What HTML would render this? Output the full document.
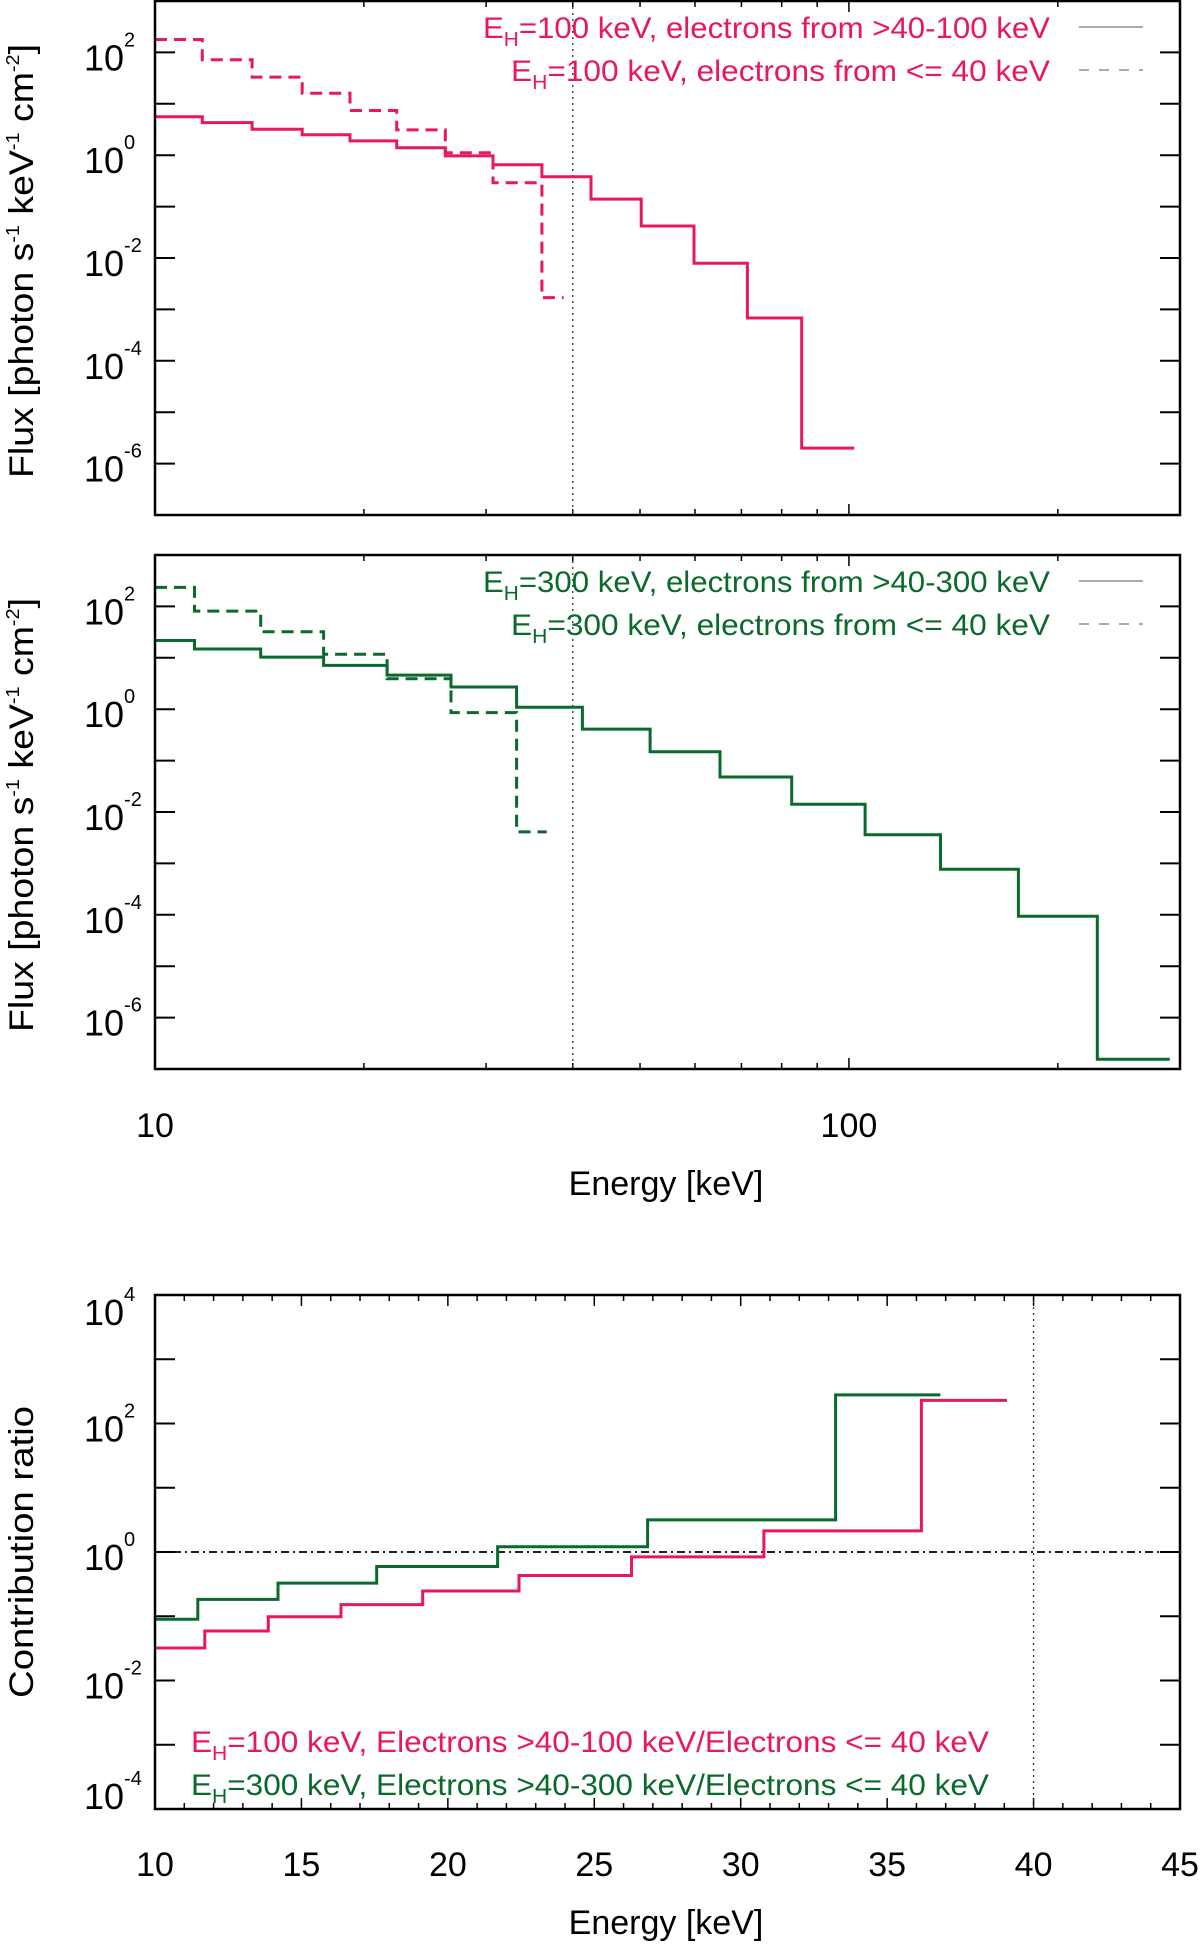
<!DOCTYPE html>
<html><head><meta charset="utf-8"><style>
html,body{margin:0;padding:0;background:#fff}
svg{display:block;font-family:"Liberation Sans",Arial,sans-serif}
</style></head><body>
<svg id="fig" width="1200" height="1944" viewBox="0 0 1200 1944" xmlns="http://www.w3.org/2000/svg"></svg>
<script>
// ---- data ----
const edgesP100 = [10,11.7,13.8,16.3,19.1,22.3,26.2,30.7,36.1,42.5,50.2,59.8,71.4,85.5,101.8];
const fluxP100Hi = [5.6,4.3,3.2,2.5,1.9,1.4,0.97,0.65,0.38,0.14,0.042,0.0079,6.8e-4,2.0e-6];
const edgesP100Lo = [10,11.7,13.8,16.3,19.1,22.3,26.2,30.7,36.1,38.8];
const fluxP100Lo = [178,72,33,16,7.4,3.1,1.12,0.29,0.0017];
const edgesG300 = [10,11.4,14.2,17.5,21.6,26.7,33.2,41.3,51.7,65.2,82.7,105.5,135.5,175.5,228,290];
const fluxG300Hi = [21.7,14.8,10.3,7.1,4.6,2.7,1.09,0.41,0.148,0.048,0.0142,0.0036,7.7e-4,9.4e-5,1.55e-7];
const edgesG300Lo = [10,11.4,14.2,17.5,21.6,26.7,33.2,36.7];
const fluxG300Lo = [234,81,32,11.7,3.9,0.86,0.0041];
const edgesRatio100 = [10,11.7,13.87,16.35,19.14,22.43,26.27,30.79,36.17,39.09];
const ratio100 = [0.032,0.059,0.098,0.152,0.247,0.43,0.84,2.13,229];
const edgesRatio300 = [10,11.46,14.2,17.57,21.7,26.82,33.24,36.82];
const ratio300 = [0.0895,0.183,0.328,0.594,1.205,3.16,279];
const fluxTickExp = [-6,-4,-2,0,2];
const ratioTickExp = [-4,-2,0,2,4];
const linTicks = [10,15,20,25,30,35,40,45];

const PINK="#e8185a", GREEN="#0a6a2c";
const svg=document.getElementById('fig');
const NS="http://www.w3.org/2000/svg";
function mk(tag,attrs,parent){const e=document.createElementNS(NS,tag);for(const k in attrs)e.setAttribute(k,attrs[k]);(parent||svg).appendChild(e);return e;}

const X0=155,X1=1180;
function logX(e){return X0+(Math.log10(e)-1)/(Math.log10(300)-1)*(X1-X0);}
function linX(e){return X0+(e-10)/35*(X1-X0);}
function logY(v,y0,y1,lo,hi){return y1-(Math.log10(v)-lo)/(hi-lo)*(y1-y0);}

function stepPath(edges,vals,fx,fy){
  let d="M"+fx(edges[0]).toFixed(1)+" "+fy(vals[0]).toFixed(1)+" H"+fx(edges[1]).toFixed(1);
  for(let i=1;i<vals.length;i++){d+=" V"+fy(vals[i]).toFixed(1)+" H"+fx(edges[i+1]).toFixed(1);}
  return d;
}
function ytickLabels(g,exps,fy,shift){
  exps.forEach(ex=>{
    const y=fy(Math.pow(10,ex))+((shift&&shift[ex])||0);
    const t=mk('text',{x:84,y:y+18,'font-size':36,fill:'#000'},g);
    
    
    t.appendChild(document.createTextNode('10'));
    const s=mk('tspan',{'font-size':20,dy:-24},t);s.textContent=String(ex);
  });
}
function legendText(g,x,y,w,color,sub,rest,name){
  const t=mk('text',{x:x,y:y,'font-size':30,fill:color,textLength:w,lengthAdjust:'spacingAndGlyphs'},g);
  
  
  const a=mk('tspan',{},t);a.textContent='E';
  const b=mk('tspan',{'font-size':20,dy:8},t);b.textContent='H';
  const c=mk('tspan',{dy:-8},t);c.textContent=rest;
}

function fluxPanel(y0,y1,name,color,hiE,hiV,loE,loV,leg1,leg2){
  const g=mk('g',{});
  
  
  const fy=v=>logY(v,y0,y1,-7,3);
  for(let ex=-7;ex<=3;ex++){const y=fy(Math.pow(10,ex));
    mk('line',{x1:X0,x2:X0+20,y1:y,y2:y,stroke:'#000','stroke-width':2},g);
    mk('line',{x1:X1-20,x2:X1,y1:y,y2:y,stroke:'#000','stroke-width':2},g);}
  const xt=[20,30,40,50,60,70,80,90,200];
  xt.forEach(e=>{const x=logX(e);
    mk('line',{x1:x,x2:x,y1:y1,y2:y1-6,stroke:'#000','stroke-width':1.5},g);
    mk('line',{x1:x,x2:x,y1:y0,y2:y0+6,stroke:'#000','stroke-width':1.5},g);});
  [100].forEach(e=>{const x=logX(e);
    mk('line',{x1:x,x2:x,y1:y1,y2:y1-11,stroke:'#000','stroke-width':1.5},g);
    mk('line',{x1:x,x2:x,y1:y0,y2:y0+11,stroke:'#000','stroke-width':1.5},g);});
  const xd=logX(40);
  const dl=mk('line',{x1:xd,x2:xd,y1:y0,y2:y1,stroke:'#333','stroke-width':1.3,'stroke-dasharray':'2,4'},g);
  
  
  const p1=mk('path',{d:stepPath(hiE,hiV,logX,fy),fill:'none',stroke:color,'stroke-width':3},g);
  
  
  const p2=mk('path',{d:stepPath(loE,loV,logX,fy),fill:'none',stroke:color,'stroke-width':3,'stroke-dasharray':'12,7'},g);
  
  
  mk('rect',{x:X0,y:y0,width:X1-X0,height:y1-y0,fill:'none',stroke:'#000','stroke-width':2.5},g);
  ytickLabels(g,fluxTickExp,fy);
  legendText(g,483,y0+37,567,color,'H',leg1,'legend-entry-solid');
  legendText(g,511,y0+80,539,color,'H',leg2,'legend-entry-dashed');
  mk('line',{x1:1079,x2:1143,y1:y0+26,y2:y0+26,stroke:'#aaa','stroke-width':2},g);
  mk('line',{x1:1079,x2:1143,y1:y0+69,y2:y0+69,stroke:'#aaa','stroke-width':2,'stroke-dasharray':'10,10'},g);
  const yc=(y0+y1)/2+3;
  const t=mk('text',{x:0,y:0,'font-size':34,'text-anchor':'middle',transform:`translate(33,${yc}) rotate(-90)`,textLength:434,lengthAdjust:'spacingAndGlyphs'},g);
  
  
  t.appendChild(document.createTextNode('Flux [photon s'));
  let s=mk('tspan',{'font-size':18,dy:-14},t);s.textContent='-1';
  s=mk('tspan',{dy:14},t);s.textContent=' keV';
  s=mk('tspan',{'font-size':18,dy:-14},t);s.textContent='-1';
  s=mk('tspan',{dy:14},t);s.textContent=' cm';
  s=mk('tspan',{'font-size':18,dy:-14},t);s.textContent='-2';
  s=mk('tspan',{dy:14},t);s.textContent=']';
  return g;
}
fluxPanel(1,515,'panel-eh100',PINK,edgesP100,fluxP100Hi,edgesP100Lo,fluxP100Lo,'=100 keV, electrons from >40-100 keV','=100 keV, electrons from <= 40 keV');
fluxPanel(555,1069,'panel-eh300',GREEN,edgesG300,fluxG300Hi,edgesG300Lo,fluxG300Lo,'=300 keV, electrons from >40-300 keV','=300 keV, electrons from <= 40 keV');
[[10,'10'],[100,'100']].forEach(([e,l])=>{const t=mk('text',{x:logX(e),y:1137,'font-size':34,'text-anchor':'middle'});
  t.textContent=l;});
let xt=mk('text',{x:666,y:1195,'font-size':34,'text-anchor':'middle'});
xt.textContent='Energy [keV]';

(function(){
  const y0=1295,y1=1809;
  const g=mk('g',{});
  
  
  const fy=v=>logY(v,y0,y1,-4,4);
  for(let ex=-4;ex<=4;ex++){const y=fy(Math.pow(10,ex));
    mk('line',{x1:X0,x2:X0+20,y1:y,y2:y,stroke:'#000','stroke-width':2},g);
    mk('line',{x1:X1-20,x2:X1,y1:y,y2:y,stroke:'#000','stroke-width':2},g);}
  for(let e=11;e<45;e++){ if(e%5===0)continue; const x=linX(e);
    mk('line',{x1:x,x2:x,y1:y1,y2:y1-6,stroke:'#000','stroke-width':1.5},g);
    mk('line',{x1:x,x2:x,y1:y0,y2:y0+6,stroke:'#000','stroke-width':1.5},g);}
  linTicks.forEach(e=>{const x=linX(e);
    mk('line',{x1:x,x2:x,y1:y1,y2:y1-11,stroke:'#000','stroke-width':1.5},g);
    mk('line',{x1:x,x2:x,y1:y0,y2:y0+11,stroke:'#000','stroke-width':1.5},g);
    const t=mk('text',{x:x,y:1876,'font-size':34,'text-anchor':'middle'},g);
    t.textContent=String(e);});
  const xd=linX(40);
  const dl=mk('line',{x1:xd,x2:xd,y1:y0,y2:y1,stroke:'#333','stroke-width':1.3,'stroke-dasharray':'2,4'},g);
  
  const yu=fy(1);
  const hl=mk('line',{x1:X0,x2:X1,y1:yu,y2:yu,stroke:'#000','stroke-width':1.8,'stroke-dasharray':'8,4,2,4'},g);
  
  const p1=mk('path',{d:stepPath(edgesRatio300,ratio300,linX,fy),fill:'none',stroke:GREEN,'stroke-width':3},g);
  
  const p2=mk('path',{d:stepPath(edgesRatio100,ratio100,linX,fy),fill:'none',stroke:PINK,'stroke-width':3},g);
  
  mk('rect',{x:X0,y:y0,width:X1-X0,height:y1-y0,fill:'none',stroke:'#000','stroke-width':2.5},g);
  ytickLabels(g,ratioTickExp,fy,{'4':12,'-4':-18});
  legendText(g,191,1752,798,PINK,'H','=100 keV, Electrons >40-100 keV/Electrons <= 40 keV','legend-entry-eh100');
  legendText(g,191,1795,798,GREEN,'H','=300 keV, Electrons >40-300 keV/Electrons <= 40 keV','legend-entry-eh300');
  const t=mk('text',{x:0,y:0,'font-size':34,'text-anchor':'middle',transform:'translate(33,1552) rotate(-90)',textLength:292,lengthAdjust:'spacingAndGlyphs'},g);
  t.textContent='Contribution ratio';
  const xt2=mk('text',{x:666,y:1934,'font-size':34,'text-anchor':'middle'},g);
  xt2.textContent='Energy [keV]';
})();
</script>
</body></html>
